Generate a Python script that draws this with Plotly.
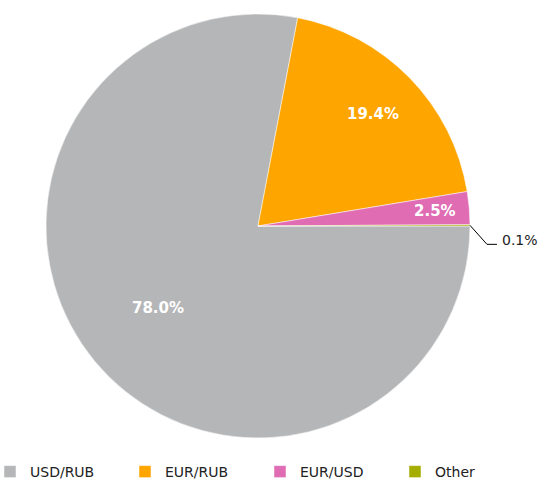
import math
import plotly.graph_objects as go

labels = ["USD/RUB", "EUR/RUB", "EUR/USD", "Other"]
values = [78.0, 19.4, 2.5, 0.1]
colors = ["#b5b6b8", "#ffa500", "#e06cb4", "#a5ad00"]

W, H = 540, 480
# pie box in pixels: left, right, top, bottom
PL, PR, PT, PB = 46, 470, 14, 438

fig = go.Figure(
    go.Pie(
        labels=labels,
        values=values,
        domain=dict(x=[PL / W, PR / W], y=[1 - PB / H, 1 - PT / H]),
        marker=dict(colors=colors, line=dict(color="white", width=0.5)),
        sort=False,
        direction="clockwise",
        rotation=90,
        textinfo="none",
        hoverinfo="label+percent",
    )
)

total = sum(values)
r = min(PR - PL, PB - PT) / 2
cx = (PL + PR) / 2
cy = (PT + PB) / 2


def mid_angle(i):
    # slices run clockwise from 3 o'clock
    start = sum(values[:i]) / total
    return math.radians(-360 * (start + values[i] / total / 2))


def to_paper(x, y):
    return x / W, 1 - y / H


# percentage labels inside the three larger slices
label_depth = [0.61, 0.76, 0.84]
for i in range(3):
    a = mid_angle(i)
    x, y = to_paper(cx + label_depth[i] * r * math.cos(a), cy - label_depth[i] * r * math.sin(a))
    fig.add_annotation(
        x=x, y=y, xref="paper", yref="paper",
        xanchor="center", yanchor="middle",
        text=f"<b>{values[i]:.1f}%</b>",
        showarrow=False,
        font=dict(family="DejaVu Sans", size=15, color="white"),
    )

# leader line and label for the tiny slice
a = mid_angle(3)
x0 = cx + r * math.cos(a)
y0 = cy - r * math.sin(a)
x1, y1 = x0 + 17, y0 + 19
x2 = x1 + 10
p0, p1, p2 = to_paper(x0, y0), to_paper(x1, y1), to_paper(x2, y1)
fig.add_shape(
    type="path",
    path=f"M {p0[0]} {p0[1]} L {p1[0]} {p1[1]} L {p2[0]} {p2[1]}",
    xref="paper", yref="paper",
    line=dict(color="black", width=1),
)
tx, ty = to_paper(x2 + 3, y1 - 4)
fig.add_annotation(
    x=tx, y=ty, xref="paper", yref="paper",
    text=f"{values[-1]:.1f}%",
    showarrow=False,
    xanchor="left",
    yanchor="middle",
    font=dict(family="DejaVu Sans", size=14, color="#222222"),
)

fig.update_layout(
    width=W,
    height=H,
    margin=dict(l=0, r=0, t=0, b=0, autoexpand=False),
    paper_bgcolor="white",
    font=dict(family="DejaVu Sans", size=14, color="#222222"),
    showlegend=True,
    legend=dict(
        orientation="h",
        x=-10 / W,
        xanchor="left",
        y=-8 / H,
        yanchor="bottom",
        entrywidth=90,
        entrywidthmode="pixels",
        itemwidth=30,
        font=dict(size=14),
    ),
)

fig.write_html(
    "out.html",
    config={"displayModeBar": False},
    post_script="document.body.style.margin='0';",
)
